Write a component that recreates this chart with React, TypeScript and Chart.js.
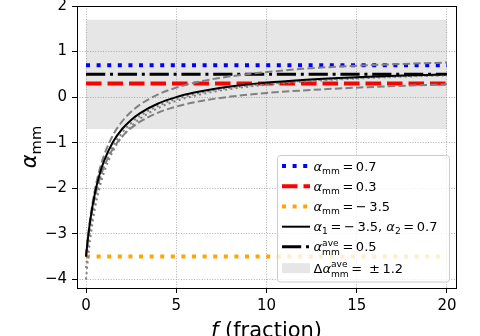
import React, { useEffect, useRef } from 'react';
import { Chart, registerables } from 'chart.js';

Chart.register(...registerables);

const FONT = '"DejaVu Sans", sans-serif';

// ---- data ----
const xTicks = [0, 5, 10, 15, 20];
const yTicks = [-4, -3, -2, -1, 0, 1, 2];
const xRange = [-0.5, 20.5];
const yRange = [-4.19, 2];

const fValues = [0, 0.1, 0.25, 0.5, 0.75, 1, 1.5, 2, 2.5, 3, 4, 5, 6, 7, 8, 10, 12, 14, 16, 18, 20];
const alphaMixed = [-3.5, -3.12, -2.66, -2.1, -1.7, -1.4, -0.98, -0.7, -0.5, -0.35, -0.14, 0, 0.1, 0.175, 0.233, 0.318, 0.377, 0.42, 0.453, 0.479, 0.5];
const alphaMixedUpper = [-3.5, -3.095, -2.61, -2.017, -1.593, -1.275, -0.83, -0.533, -0.321, -0.163, 0.06, 0.208, 0.314, 0.394, 0.456, 0.55, 0.62, 0.67, 0.705, 0.735, 0.76];
const alphaMixedLower = [-3.5, -3.141, -2.71, -2.183, -1.807, -1.525, -1.13, -0.867, -0.679, -0.538, -0.34, -0.208, -0.114, -0.044, 0.011, 0.091, 0.146, 0.19, 0.225, 0.255, 0.28];
const alphaMixedDotA = [-3.75, -3.345, -2.86, -2.267, -1.843, -1.525, -1.08, -0.783, -0.571, -0.413, -0.19, -0.042, 0.064, 0.144, 0.206, 0.295, 0.358, 0.403, 0.438, 0.466, 0.488];
const alphaMixedDotB = [-4, -3.573, -3.06, -2.433, -1.986, -1.65, -1.18, -0.867, -0.643, -0.475, -0.24, -0.083, 0.029, 0.113, 0.178, 0.273, 0.338, 0.387, 0.424, 0.453, 0.476];

const lineSpan = [0, 20];
const alphaHigh = 0.7;
const alphaLow = 0.3;
const alphaEnd1 = -3.5;
const alphaAve = 0.5;
const alphaDelta = 1.2;

const fmt = (v: number) => (v < 0 ? '\u2212' + Math.abs(v) : String(v));

type Tok = { t: string; it?: boolean; sub?: string; sup?: string };

function measureMath(ctx: CanvasRenderingContext2D, toks: Tok[], size: number) {
  let w = 0;
  for (const tk of toks) {
    ctx.font = `${tk.it ? 'italic ' : ''}${size}px ${FONT}`;
    w += ctx.measureText(tk.t).width;
    if (tk.sub || tk.sup) {
      ctx.font = `${size * 0.7}px ${FONT}`;
      w += Math.max(tk.sub ? ctx.measureText(tk.sub).width : 0, tk.sup ? ctx.measureText(tk.sup).width : 0);
    }
  }
  return w;
}

function drawMath(ctx: CanvasRenderingContext2D, toks: Tok[], x: number, y: number, size: number) {
  let cx = x;
  ctx.textBaseline = 'alphabetic';
  ctx.textAlign = 'left';
  for (const tk of toks) {
    ctx.font = `${tk.it ? 'italic ' : ''}${size}px ${FONT}`;
    ctx.fillText(tk.t, cx, y);
    cx += ctx.measureText(tk.t).width;
    if (tk.sub || tk.sup) {
      const s2 = size * 0.7;
      ctx.font = `${s2}px ${FONT}`;
      let w = 0;
      if (tk.sub) {
        ctx.fillText(tk.sub, cx, y + size * (tk.sup ? 0.3 : 0.22));
        w = Math.max(w, ctx.measureText(tk.sub).width);
      }
      if (tk.sup) {
        ctx.fillText(tk.sup, cx, y - size * 0.42);
        w = Math.max(w, ctx.measureText(tk.sup).width);
      }
      cx += w;
    }
  }
}

const TS = '\u2009';
const sp = (v: number) => (v < 0 ? `${TS}=${TS}\u2212${TS}` + Math.abs(v) : `${TS}=${TS}` + v);

type LegendItem = { toks: Tok[]; kind: 'line' | 'box'; color: string; width: number; dash: number[]; y: number };

const legendItems: LegendItem[] = [
  { toks: [{ t: 'α', it: true, sub: 'mm' }, { t: sp(alphaHigh) }], kind: 'line', color: '#0000ff', width: 4, dash: [4, 6.6], y: 166 },
  { toks: [{ t: 'α', it: true, sub: 'mm' }, { t: sp(alphaLow) }], kind: 'line', color: '#ff0000', width: 4, dash: [15.5, 6], y: 186.2 },
  { toks: [{ t: 'α', it: true, sub: 'mm' }, { t: sp(alphaEnd1) }], kind: 'line', color: '#ffa500', width: 4, dash: [4, 6.6], y: 206.5 },
  { toks: [{ t: 'α', it: true, sub: '1' }, { t: sp(alphaEnd1) + ', ' }, { t: 'α', it: true, sub: '2' }, { t: sp(alphaHigh) }], kind: 'line', color: '#000000', width: 2, dash: [], y: 226.7 },
  { toks: [{ t: 'α', it: true, sub: 'mm', sup: 'ave' }, { t: sp(alphaAve) }], kind: 'line', color: '#000000', width: 3, dash: [19.2, 4.8, 3, 4.8], y: 246.7 },
  { toks: [{ t: 'Δ' }, { t: 'α', it: true, sub: 'mm', sup: 'ave' }, { t: `${TS}=${TS} ±${TS}` + alphaDelta }], kind: 'box', color: 'rgba(128,128,128,0.2)', width: 0, dash: [], y: 268.2 },
];

const decorPlugin = {
  id: 'decor',
  afterDatasetsDraw(chart: any) {
    const { ctx, chartArea: a } = chart;
    ctx.save();
    ctx.strokeStyle = '#000';
    ctx.lineWidth = 1;
    ctx.setLineDash([]);
    ctx.strokeRect(Math.round(a.left) + 0.5, Math.round(a.top) + 0.5, Math.round(a.right - a.left), Math.round(a.bottom - a.top));
    ctx.restore();
  },
  afterDraw(chart: any) {
    const { ctx, chartArea: a } = chart;
    ctx.save();
    ctx.fillStyle = '#000';
    // x title
    const xt: Tok[] = [{ t: 'f', it: true }, { t: ' (fraction)' }];
    const xw = measureMath(ctx, xt, 21);
    drawMath(ctx, xt, (a.left + a.right) / 2 - xw / 2, 337, 21);
    // y title
    const yt: Tok[] = [{ t: 'α', it: true, sub: 'mm' }];
    const yw = measureMath(ctx, yt, 21);
    ctx.save();
    ctx.translate(36, (a.top + a.bottom) / 2);
    ctx.rotate(-Math.PI / 2);
    drawMath(ctx, yt, -yw / 2, 0, 21);
    ctx.restore();

    // legend
    const lx = 277.5, ly = 155.5, lw = 172, lh = 126.5, r = 3;
    ctx.beginPath();
    ctx.moveTo(lx + r, ly);
    ctx.lineTo(lx + lw - r, ly);
    ctx.arcTo(lx + lw, ly, lx + lw, ly + r, r);
    ctx.lineTo(lx + lw, ly + lh - r);
    ctx.arcTo(lx + lw, ly + lh, lx + lw - r, ly + lh, r);
    ctx.lineTo(lx + r, ly + lh);
    ctx.arcTo(lx, ly + lh, lx, ly + lh - r, r);
    ctx.lineTo(lx, ly + r);
    ctx.arcTo(lx, ly, lx + r, ly, r);
    ctx.closePath();
    ctx.fillStyle = 'rgba(255,255,255,0.8)';
    ctx.fill();
    ctx.strokeStyle = '#cccccc';
    ctx.lineWidth = 1;
    ctx.stroke();

    for (const it of legendItems) {
      if (it.kind === 'line') {
        ctx.save();
        ctx.strokeStyle = it.color;
        ctx.lineWidth = it.width;
        ctx.lineCap = 'butt';
        ctx.setLineDash(it.dash);
        ctx.beginPath();
        ctx.moveTo(282, it.y);
        ctx.lineTo(310, it.y);
        ctx.stroke();
        ctx.restore();
      } else {
        ctx.fillStyle = it.color;
        ctx.fillRect(282, it.y - 5, 28, 10);
      }
      ctx.fillStyle = '#000';
      drawMath(ctx, it.toks, 313.5, it.y + 4.7, 13);
    }
    ctx.restore();
  },
};

const curve = (ys: number[]) => fValues.map((f, i) => ({ x: f, y: ys[i] }));
const hline = (y: number) => lineSpan.map((x) => ({ x, y }));

export default function App() {
  const ref = useRef<HTMLCanvasElement>(null);
  useEffect(() => {
    if (!ref.current) return;
    const common = { pointRadius: 0, pointHoverRadius: 0, fill: false };
    const chart = new Chart(ref.current, {
      type: 'line',
      data: {
        datasets: [
          { ...common, label: 'band upper', data: hline(alphaAve + alphaDelta), fill: '+1', backgroundColor: 'rgba(128,128,128,0.2)', borderWidth: 0, borderColor: 'rgba(0,0,0,0)', order: 10 } as any,
          { ...common, label: 'band lower', data: hline(alphaAve - alphaDelta), borderWidth: 0, borderColor: 'rgba(0,0,0,0)', order: 10 },
          { ...common, label: 'α_mm = 0.7', data: hline(alphaHigh), borderColor: '#0000ff', borderWidth: 4, borderDash: [4, 6.6], order: 6 },
          { ...common, label: 'α_mm = 0.3', data: hline(alphaLow), borderColor: '#ff0000', borderWidth: 4, borderDash: [15.5, 6], order: 6 },
          { ...common, label: 'α_mm = -3.5', data: hline(alphaEnd1), borderColor: '#ffa500', borderWidth: 4, borderDash: [4, 6.6], order: 6 },
          { ...common, label: 'α_mm^ave = 0.5', data: hline(alphaAve), borderColor: '#000000', borderWidth: 3, borderDash: [19.2, 4.8, 3, 4.8], order: 6 },
          { ...common, label: 'upper', data: curve(alphaMixedUpper), borderColor: '#808080', borderWidth: 2, borderDash: [7.4, 3.2], cubicInterpolationMode: 'monotone', order: 3 },
          { ...common, label: 'lower', data: curve(alphaMixedLower), borderColor: '#808080', borderWidth: 2, borderDash: [7.4, 3.2], cubicInterpolationMode: 'monotone', order: 3 },
          { ...common, label: 'dotA', data: curve(alphaMixedDotA), borderColor: '#808080', borderWidth: 2, borderDash: [2, 3.3], cubicInterpolationMode: 'monotone', order: 3 },
          { ...common, label: 'dotB', data: curve(alphaMixedDotB), borderColor: '#808080', borderWidth: 2, borderDash: [2, 3.3], cubicInterpolationMode: 'monotone', order: 3 },
          { ...common, label: 'α1 = -3.5, α2 = 0.7', data: curve(alphaMixed), borderColor: '#000000', borderWidth: 2, cubicInterpolationMode: 'monotone', order: 1 },
        ],
      },
      options: {
        animation: false,
        responsive: false,
        devicePixelRatio: 1,
        events: [],
        layout: { padding: { left: 0, top: 6, right: 24, bottom: 0 } },
        plugins: { legend: { display: false }, tooltip: { enabled: false }, title: { display: false } },
        scales: {
          x: {
            type: 'linear',
            min: xRange[0],
            max: xRange[1],
            afterBuildTicks: (s: any) => { s.ticks = xTicks.map((v) => ({ value: v })); },
            afterFit: (s: any) => { s.height = 48; s.paddingLeft = 0; s.paddingRight = 0; s.paddingTop = 0; s.paddingBottom = 0; },
            ticks: { font: { family: FONT, size: 15 }, color: '#000', padding: 4, maxRotation: 0, autoSkip: false, callback: (v: any) => fmt(Number(v)) },
            grid: { color: '#b0b0b0', lineWidth: 1, tickLength: 5, tickColor: '#000', tickWidth: 1, drawTicks: true },
            border: { display: false, dash: [1, 1.6] },
          },
          y: {
            type: 'linear',
            min: yRange[0],
            max: yRange[1],
            afterBuildTicks: (s: any) => { s.ticks = yTicks.map((v) => ({ value: v })); },
            afterFit: (s: any) => { s.width = 77; s.paddingLeft = 0; s.paddingRight = 0; s.paddingTop = 0; s.paddingBottom = 0; },
            ticks: { font: { family: FONT, size: 15 }, color: '#000', padding: 5, autoSkip: false, callback: (v: any) => fmt(Number(v)) },
            grid: { color: '#b0b0b0', lineWidth: 1, tickLength: 5, tickColor: '#000', tickWidth: 1, drawTicks: true },
            border: { display: false, dash: [1, 1.6] },
          },
        },
      } as any,
      plugins: [decorPlugin],
    });
    return () => chart.destroy();
  }, []);
  return (
    <div style={{ position: 'absolute', left: 0, top: 0, width: 480, height: 336, background: '#fff' }}>
      <canvas ref={ref} width={480} height={336} style={{ width: 480, height: 336, display: 'block' }} />
    </div>
  );
}
